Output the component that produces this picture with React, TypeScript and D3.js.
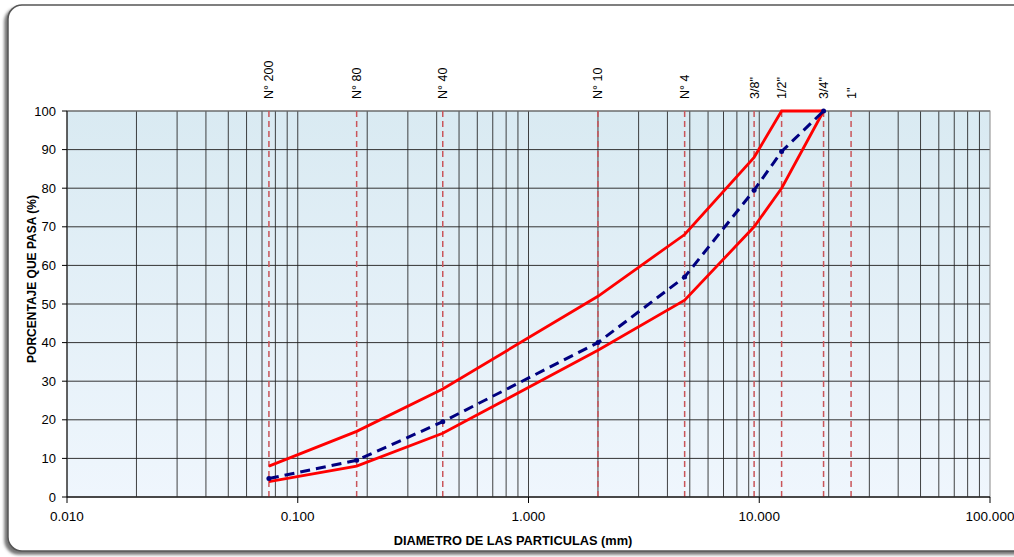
import React from "react";
import * as d3 from "d3";

const sieveLabels = ["N° 200", "N° 80", "N° 40", "N° 10", "N° 4", '3/8"', '1/2"', '3/4"', '1"'];
const sieveSizes = [0.075, 0.18, 0.425, 2.0, 4.75, 9.5, 12.5, 19.0, 25.0];

const limitSizes = [0.075, 0.18, 0.425, 2.0, 4.75, 9.5, 12.5, 19.0];
const upperLimit = [8, 17, 28, 52, 68, 88, 100, 100];
const lowerLimit = [4, 8, 16.5, 38, 51, 70, 80, 100];
const sampleGrading = [4.8, 9.5, 19.5, 40, 57, 79.5, 89.5, 100];

const xTicks = [0.01, 0.1, 1, 10, 100];
const yTicks = [0, 10, 20, 30, 40, 50, 60, 70, 80, 90, 100];

const W = 1014;
const H = 557;
const left = 67;
const right = 990;
const top = 111;
const bottom = 497;

export default function App() {
  const x = d3.scaleLog().domain([0.01, 100]).range([left, right]);
  const y = d3.scaleLinear().domain([0, 100]).range([bottom, top]);

  const minor: number[] = [];
  for (let e = -2; e < 2; e++) {
    for (let k = 1; k <= 9; k++) {
      const v = k * Math.pow(10, e);
      if (v > 0.01) minor.push(v);
    }
  }

  const line = d3
    .line<[number, number]>()
    .x((d) => x(d[0]))
    .y((d) => y(d[1]));

  const pts = (vals: number[]) => limitSizes.map((s, i) => [s, vals[i]] as [number, number]);
  const font = "'Liberation Sans', Arial, sans-serif";

  return (
    <svg
      width={W}
      height={H}
      style={{ position: "absolute", left: 0, top: 0, fontFamily: font }}
    >
      <defs>
        <linearGradient id="bg" x1="0" y1="0" x2="0" y2="1">
          <stop offset="0%" stopColor="#d9eaf2" />
          <stop offset="100%" stopColor="#eff6fd" />
        </linearGradient>
        <filter id="sh" x="-5%" y="-5%" width="110%" height="110%">
          <feDropShadow dx="-3" dy="3" stdDeviation="1.5" floodColor="#666" floodOpacity="0.9" />
        </filter>
      </defs>
      <rect x={0} y={0} width={W} height={H} fill="#ffffff" />
      <rect
        x={8}
        y={5}
        width={1040}
        height={546}
        rx={14}
        fill="#ffffff"
        stroke="#555"
        strokeWidth={1.5}
        filter="url(#sh)"
      />
      <rect x={left} y={top} width={right - left} height={bottom - top} fill="url(#bg)" />
      {yTicks.map((t) => (
        <line key={"h" + t} x1={left} x2={right} y1={y(t)} y2={y(t)} stroke="#333" strokeWidth={1} />
      ))}
      {minor.map((v) => (
        <line key={"v" + v} x1={x(v)} x2={x(v)} y1={top} y2={bottom} stroke="#222" strokeWidth={1} strokeOpacity={0.85} />
      ))}
      <rect x={left} y={top} width={right - left} height={bottom - top} fill="none" stroke="#888" strokeWidth={1} />
      {sieveSizes.map((s, i) => (
        <g key={"s" + i}>
          <line
            x1={x(s)}
            x2={x(s)}
            y1={top}
            y2={bottom}
            stroke="#c9555a"
            strokeWidth={1.5}
            strokeDasharray="6,4"
          />
          <text
            transform={`translate(${x(s) + 4.5},${99}) rotate(-90)`}
            fontSize={12.5}
            fill="#000"
            textAnchor="start"
          >
            {sieveLabels[i]}
          </text>
        </g>
      ))}
      <line x1={left} x2={left} y1={top} y2={bottom} stroke="#000" strokeWidth={1} />
      <line x1={left} x2={right} y1={bottom} y2={bottom} stroke="#000" strokeWidth={1} />
      {yTicks.map((t) => (
        <g key={"yt" + t}>
          <line x1={left - 5} x2={left} y1={y(t)} y2={y(t)} stroke="#000" />
          <text x={left - 11} y={y(t) + 4.5} fontSize={13} textAnchor="end" fill="#000">
            {t}
          </text>
        </g>
      ))}
      {xTicks.map((t) => (
        <g key={"xt" + t}>
          <line x1={x(t)} x2={x(t)} y1={bottom} y2={bottom + 6} stroke="#000" />
          <text x={x(t)} y={bottom + 24} fontSize={13.5} textAnchor="middle" fill="#000">
            {t.toFixed(3)}
          </text>
        </g>
      ))}
      <text x={513} y={545} fontSize={12.8} fontWeight="bold" textAnchor="middle" fill="#000">
        DIAMETRO DE LAS PARTICULAS (mm)
      </text>
      <text
        transform={`translate(36,279) rotate(-90)`}
        fontSize={12}
        fontWeight="bold"
        textAnchor="middle"
        fill="#000"
      >
        PORCENTAJE QUE PASA (%)
      </text>
      <path d={line(pts(upperLimit)) || ""} fill="none" stroke="#ff0000" strokeWidth={2.8} />
      <path d={line(pts(lowerLimit)) || ""} fill="none" stroke="#ff0000" strokeWidth={2.8} />
      <path
        d={line(pts(sampleGrading)) || ""}
        fill="none"
        stroke="#000080"
        strokeWidth={3}
        strokeDasharray="10,6"
      />
      {pts(sampleGrading).map((p, i) => (
        <circle key={"p" + i} cx={x(p[0])} cy={y(p[1])} r={2.5} fill="#000080" />
      ))}
    </svg>
  );
}
